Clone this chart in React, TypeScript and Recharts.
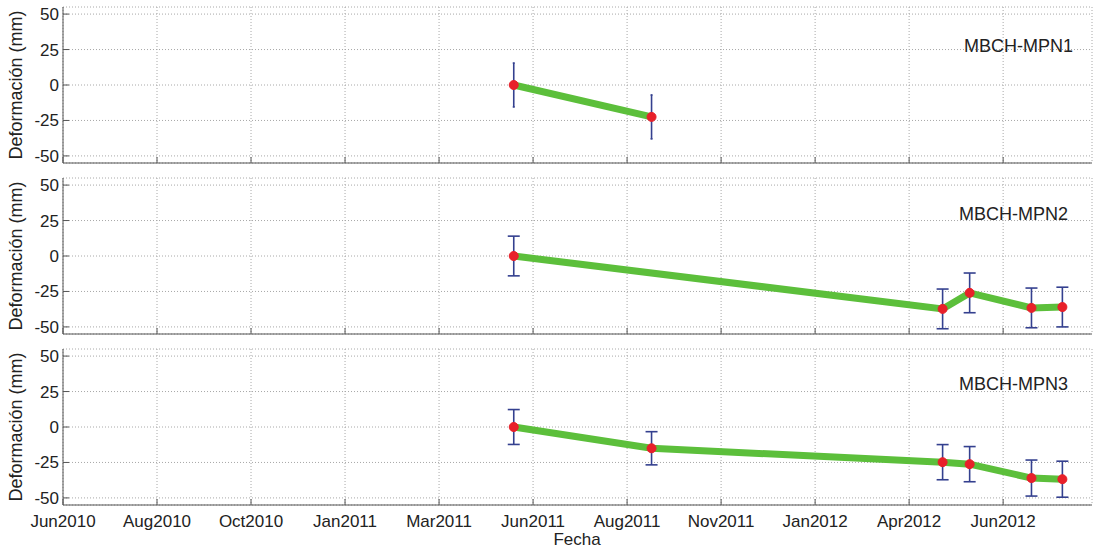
import { LineChart, Line, XAxis, YAxis, CartesianGrid, ErrorBar } from 'recharts';

// eje de fechas: días contados desde el primer tick (Jun2010)
const diasTicks = [0, 73, 146, 219, 292, 365, 438, 511, 584, 657, 730];
const etiquetasFecha = ['Jun2010', 'Aug2010', 'Oct2010', 'Jan2011', 'Mar2011', 'Jun2011', 'Aug2011', 'Nov2011', 'Jan2012', 'Apr2012', 'Jun2012'];
const ticksDef = [-50, -25, 0, 25, 50];

const diasMPN1 = [350, 457];
const defMPN1 = [0, -22.5];
const errMPN1 = [15.5, 15.5];

const diasMPN2 = [350, 683, 704, 752, 776];
const defMPN2 = [0, -37.3, -26, -36.6, -36];
const errMPN2 = [14, 14, 14, 14, 14];

const diasMPN3 = [350, 457, 683, 704, 752, 776];
const defMPN3 = [0, -15, -24.8, -26.2, -36, -36.8];
const errMPN3 = [12.3, 11.7, 12.4, 12.4, 12.7, 12.7];

const FONT = '"Liberation Sans", Arial, sans-serif';
const EJE = '#555';
const PLOT_H = 156;

const toRows = (dias: number[], def: number[], err: number[]) =>
  dias.map((d, i) => ({ dia: d, def: def[i], err: err[i] }));

interface PanelProps {
  top: number;
  rows: { dia: number; def: number; err: number }[];
  title: string;
  titleY: number;
  titleX: number;
  showDates?: boolean;
  cap: number;
}

function Panel({ top, rows, title, titleY, titleX, showDates, cap }: PanelProps) {
  const axisH = showDates ? 50 : 2;
  const height = 2 + PLOT_H + axisH;

  const tickAbajo = (p: any) => {
    const i = diasTicks.indexOf(p.payload.value);
    return (
      <g>
        <line x1={p.x} y1={p.y} x2={p.x} y2={p.y - 6} stroke={EJE} />
        {showDates && (
          <text x={p.x} y={p.y + 22} textAnchor="middle" fontSize={17} fill="#222" fontFamily={FONT}>
            {etiquetasFecha[i]}
          </text>
        )}
      </g>
    );
  };
  const tickArriba = (p: any) => <line x1={p.x} y1={p.y} x2={p.x} y2={p.y + 6} stroke={EJE} />;
  const tickIzq = (p: any) => (
    <g>
      <line x1={p.x} y1={p.y} x2={p.x + 6} y2={p.y} stroke={EJE} />
      <text x={p.x - 4} y={p.y + 6} textAnchor="end" fontSize={17} fill="#222" fontFamily={FONT}>
        {p.payload.value}
      </text>
    </g>
  );
  const tickDer = (p: any) => <line x1={p.x} y1={p.y} x2={p.x - 6} y2={p.y} stroke={EJE} />;

  return (
    <div style={{ position: 'absolute', left: 0, top: top - 2 }}>
      <LineChart width={1094} height={height} data={rows} margin={{ top: 2, right: 2, left: 23, bottom: 0 }}>
        <CartesianGrid xAxisId="b" yAxisId="l" stroke="#a8a8a8" strokeDasharray="1 2" />
        <XAxis
          xAxisId="b"
          type="number"
          dataKey="dia"
          domain={[0, 799]}
          ticks={diasTicks}
          interval={0}
          height={axisH}
          tickSize={0}
          tickMargin={0}
          tick={tickAbajo}
          stroke={EJE}
          label={
            showDates
              ? (p: any) => (
                  <text x={577} y={p.viewBox.y + 40} textAnchor="middle" fontSize={17} fill="#222" fontFamily={FONT}>
                    Fecha
                  </text>
                )
              : undefined
          }
        />
        <XAxis
          xAxisId="t"
          orientation="top"
          type="number"
          dataKey="dia"
          domain={[0, 799]}
          ticks={diasTicks}
          interval={0}
          height={0}
          tickSize={0}
          tickMargin={0}
          tick={tickArriba}
          stroke={EJE}
        />
        <YAxis
          yAxisId="l"
          type="number"
          domain={[-55, 55]}
          ticks={ticksDef}
          interval={0}
          width={40}
          tickSize={0}
          tickMargin={0}
          tick={tickIzq}
          stroke={EJE}
          label={(p: any) => {
            const cy = p.viewBox.y + p.viewBox.height / 2;
            return (
              <g>
                <text x={22} y={cy} transform={`rotate(-90 22 ${cy})`} textAnchor="middle" fontSize={18} fill="#222" fontFamily={FONT}>
                  Deformación (mm)
                </text>
                <text x={titleX} y={titleY} textAnchor="end" fontSize={18} fill="#222" fontFamily={FONT}>
                  {title}
                </text>
              </g>
            );
          }}
        />
        <YAxis
          yAxisId="r"
          orientation="right"
          type="number"
          domain={[-55, 55]}
          ticks={ticksDef}
          interval={0}
          width={0}
          tickSize={0}
          tickMargin={0}
          tick={tickDer}
          stroke={EJE}
        />
        <Line
          xAxisId="b"
          yAxisId="l"
          type="linear"
          dataKey="def"
          stroke="#5cbf3b"
          strokeWidth={7}
          dot={{ r: 4.5, fill: '#e8202a', stroke: '#e8202a', strokeWidth: 1 }}
          isAnimationActive={false}
        >
          <ErrorBar dataKey="err" direction="y" width={cap} stroke="#34408f" strokeWidth={1.6} isAnimationActive={false} />
        </Line>
      </LineChart>
    </div>
  );
}

export default function App() {
  return (
    <div style={{ position: 'absolute', left: 0, top: 0, width: 1094, height: 552, background: '#fff' }}>
      <Panel top={7} rows={toRows(diasMPN1, defMPN1, errMPN1)} title="MBCH-MPN1" titleX={1073} titleY={47} cap={1} />
      <Panel top={178} rows={toRows(diasMPN2, defMPN2, errMPN2)} title="MBCH-MPN2" titleX={1068} titleY={44} cap={6} />
      <Panel top={349} rows={toRows(diasMPN3, defMPN3, errMPN3)} title="MBCH-MPN3" titleX={1068} titleY={43} cap={6} showDates />
    </div>
  );
}
